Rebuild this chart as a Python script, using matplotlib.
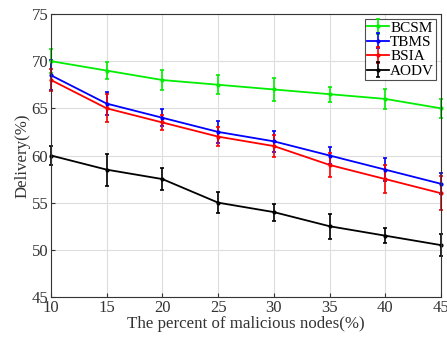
import matplotlib
matplotlib.use("Agg")
import matplotlib.pyplot as plt

x = [10, 15, 20, 25, 30, 35, 40, 45]

bcsm = [70, 69, 68, 67.5, 67, 66.5, 66, 65]
bcsm_err = [1.3, 0.9, 1.1, 1.0, 1.2, 0.8, 1.1, 1.0]
tbms = [68.5, 65.5, 64, 62.5, 61.5, 60, 58.5, 57]
tbms_err = [1.6, 1.2, 0.9, 1.2, 1.1, 0.9, 1.2, 1.1]
bsia = [68, 65, 63.5, 62, 61, 59, 57.5, 56]
bsia_err = [1.2, 1.5, 0.8, 1.0, 1.2, 1.3, 1.5, 1.8]
aodv = [60, 58.5, 57.5, 55, 54, 52.5, 51.5, 50.5]
aodv_err = [1.0, 1.7, 1.2, 1.1, 0.9, 1.3, 0.8, 1.2]

plt.rcParams["font.family"] = ["Liberation Serif", "DejaVu Serif"]

fig = plt.figure(figsize=(4.47, 3.43), dpi=100)
ax = fig.add_axes([51 / 447, 1 - 297 / 343, 390 / 447, 283 / 343])

series = [
    ("BCSM", bcsm, bcsm_err, "#00ee00"),
    ("TBMS", tbms, tbms_err, "#0000ff"),
    ("BSIA", bsia, bsia_err, "#ff0000"),
    ("AODV", aodv, aodv_err, "#000000"),
]
for name, y, err, c in series:
    ax.errorbar(x, y, yerr=err, color=c, lw=1.3, marker=".", ms=4,
                capsize=1.5, elinewidth=1.2, capthick=1.2, label=name, clip_on=False)

ax.set_xlim(10, 45)
ax.set_ylim(45, 75)
ax.set_xticks(x)
ax.set_yticks([45, 50, 55, 60, 65, 70, 75])
ax.grid(True, color="#dddddd", lw=0.8)
ax.set_axisbelow(True)
ax.tick_params(labelsize=12, direction="in", length=3, pad=2,
               colors="#333333", labelcolor="#333333")
for s in ax.spines.values():
    s.set_color("#333333")
    s.set_linewidth(0.8)

ax.set_xlabel("The percent of malicious nodes(%)", fontsize=12.2, color="#333333", labelpad=0)
ax.set_ylabel("Delivery(%)", fontsize=12.2, color="#333333", labelpad=1)

leg = ax.legend(loc="upper right", fontsize=11, frameon=True, fancybox=False,
                edgecolor="#222222", borderpad=0.15, labelspacing=0.05,
                handlelength=1.4, handletextpad=0.1, borderaxespad=0.3)
leg.get_frame().set_linewidth(0.8)

fig.savefig("out.png", dpi=100)
